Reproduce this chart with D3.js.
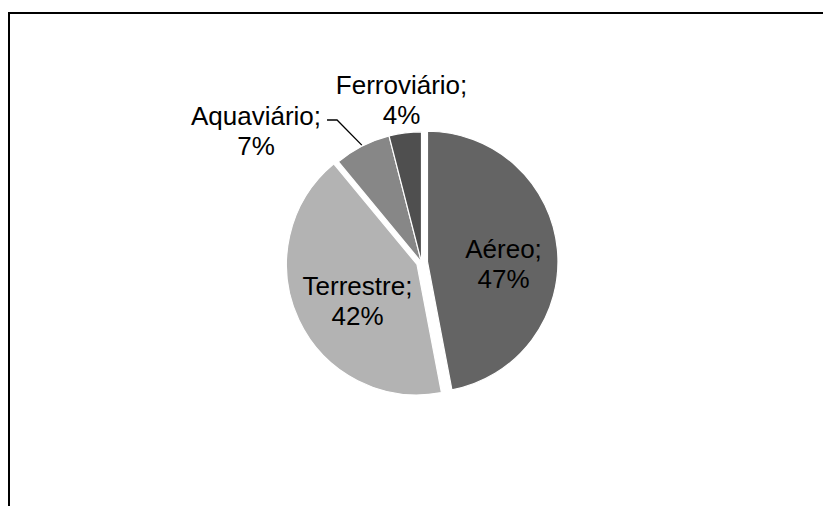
<!DOCTYPE html>
<html>
<head>
<meta charset="utf-8">
<script src="https://cdn.jsdelivr.net/npm/d3@7/dist/d3.min.js"></script>
<style>
  html, body { margin: 0; padding: 0; background: #ffffff; }
  svg { display: block; }
</style>
</head>
<body>
<svg id="chart" width="823" height="506"></svg>
<script>
// Modal de transporte: share of each mode (percent)
const categories = ["Aéreo", "Terrestre", "Aquaviário", "Ferroviário"];
const values = [47, 42, 7, 4];

// Fill shades per slice
const colors = ["#646464", "#b3b3b3", "#878787", "#4f4f4f"];
// Radial pull-out of each slice, px
const explode = [6, 5, 0, 0];
// Label placement: radius factor along the slice's middle angle plus a nudge
const labelLayout = [
  { k: 0.62, dx: -4.5, dy: 3.6 },
  { k: 0.58, dx: 9, dy: -1.7 },
  { k: 1.32, dx: -87.3, dy: 16.2 },
  { k: 1.22, dx: 0, dy: -10 }
];

const W = 823, H = 506;
const cx = 421.5, cy = 262.3, R = 130.5;
const fontSize = 26, lineH = 30;

const svg = d3.select("#chart");

// Chart frame (runs off the right and bottom edges)
svg.append("rect")
  .attr("x", 9).attr("y", 13)
  .attr("width", W + 20).attr("height", H + 20)
  .attr("fill", "none")
  .attr("stroke", "#000")
  .attr("stroke-width", 2);

const data = categories.map((c, i) => ({ name: c, value: values[i], i }));

const pie = d3.pie().value(d => d.value).sort(null).startAngle(0).endAngle(2 * Math.PI);
const arcs = pie(data);

const arc = d3.arc().innerRadius(0).outerRadius(R);

const polar = (a, r) => [r * Math.sin(a), -r * Math.cos(a)];
const mid = d => (d.startAngle + d.endAngle) / 2;

const g = svg.append("g").attr("transform", `translate(${cx},${cy})`);

g.selectAll("path.slice")
  .data(arcs)
  .join("path")
  .attr("class", "slice")
  .attr("transform", d => {
    const [ox, oy] = polar(mid(d), explode[d.data.i]);
    return `translate(${ox},${oy})`;
  })
  .attr("d", arc)
  .attr("fill", d => colors[d.data.i])
  .attr("stroke", "#ffffff")
  .attr("stroke-width", 1.2)
  .attr("stroke-linejoin", "round");

// Data labels: "name;" on the first line, percentage on the second
const labelPos = arcs.map(d => {
  const L = labelLayout[d.data.i];
  const [ex, ey] = polar(mid(d), explode[d.data.i]);
  const [px, py] = polar(mid(d), R * L.k);
  return [ex + px + L.dx, ey + py + L.dy];
});

const labels = g.selectAll("text.lbl")
  .data(arcs)
  .join("text")
  .attr("class", "lbl")
  .attr("text-anchor", "middle")
  .attr("font-family", "'Liberation Sans', Arial, sans-serif")
  .attr("font-size", fontSize)
  .attr("fill", "#000")
  .attr("transform", (d, i) => `translate(${labelPos[i][0]},${labelPos[i][1]})`);

labels.append("tspan").attr("x", 0).attr("y", 0).text(d => d.data.name + ";");
labels.append("tspan").attr("x", 0).attr("y", lineH).text(d => d.data.value + "%");

// Leader line for the small slice whose label sits away from it
const leaderIdx = 2;
const la = arcs[leaderIdx];
const lblNode = labels.filter((d, i) => i === leaderIdx).select("tspan").node();
const bb = lblNode.getBBox();
const lp = labelPos[leaderIdx];
const startX = lp[0] + bb.x + bb.width + 6;
const startY = lp[1] - 5;
const [endX, endY] = polar(mid(la), R + 1);
g.append("path")
  .attr("d", d3.line()([[startX, startY], [startX + 10, startY], [endX, endY]]))
  .attr("fill", "none")
  .attr("stroke", "#000")
  .attr("stroke-width", 1.3);
</script>
</body>
</html>
